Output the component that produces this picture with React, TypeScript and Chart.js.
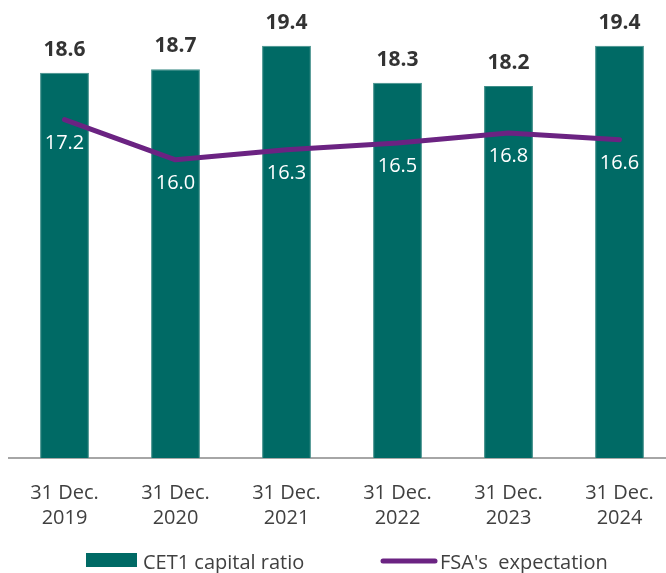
import React, { useEffect, useRef } from "react";
import { Chart, registerables } from "chart.js";

Chart.register(...registerables);

const categories: string[][] = [
  ["31 Dec.", "2019"],
  ["31 Dec.", "2020"],
  ["31 Dec.", "2021"],
  ["31 Dec.", "2022"],
  ["31 Dec.", "2023"],
  ["31 Dec.", "2024"],
];
const cet1Ratio: number[] = [18.6, 18.7, 19.4, 18.3, 18.2, 19.4];
const fsaExpectation: number[] = [17.2, 16.0, 16.3, 16.5, 16.8, 16.6];
const seriesNames: string[] = ["CET1 capital ratio", "FSA's  expectation"];

const BAR_COLOR = "#006a65";
const LINE_COLOR = "#6b2382";
const TEXT_COLOR = "#404040";
const FONT = "'Open Sans', 'DejaVu Sans', sans-serif";

const labelPlugin = {
  id: "valueLabels",
  afterDatasetsDraw(chart: any) {
    const ctx = chart.ctx;
    ctx.save();
    const barMeta = chart.getDatasetMeta(1);
    const lineMeta = chart.getDatasetMeta(0);
    ctx.textAlign = "center";
    ctx.textBaseline = "alphabetic";
    ctx.font = `bold 21px ${FONT}`;
    ctx.fillStyle = "#333333";
    barMeta.data.forEach((el: any, i: number) => {
      ctx.fillText(cet1Ratio[i].toFixed(1), el.x, el.y - 17);
    });
    ctx.font = `20px ${FONT}`;
    ctx.fillStyle = "#ffffff";
    lineMeta.data.forEach((el: any, i: number) => {
      ctx.fillText(fsaExpectation[i].toFixed(1), el.x, el.y + 29);
    });
    ctx.restore();
  },
  afterDraw(chart: any) {
    const ctx = chart.ctx;
    ctx.save();
    // custom legend
    ctx.fillStyle = BAR_COLOR;
    ctx.fillRect(86, 553, 51, 14);
    ctx.strokeStyle = LINE_COLOR;
    ctx.lineWidth = 5;
    ctx.lineCap = "round";
    ctx.beginPath();
    ctx.moveTo(383, 561);
    ctx.lineTo(435, 561);
    ctx.stroke();
    ctx.font = `20px ${FONT}`;
    ctx.fillStyle = TEXT_COLOR;
    ctx.textAlign = "left";
    ctx.textBaseline = "alphabetic";
    ctx.fillText(seriesNames[0], 143, 569);
    ctx.fillText(seriesNames[1], 440, 569);
    ctx.restore();
  },
};

export default function App() {
  const ref = useRef<HTMLCanvasElement | null>(null);
  useEffect(() => {
    if (!ref.current) return;
    const chart = new Chart(ref.current, {
      type: "bar",
      data: {
        labels: categories,
        datasets: [
          {
            type: "line",
            label: seriesNames[1],
            data: fsaExpectation,
            borderColor: LINE_COLOR,
            backgroundColor: LINE_COLOR,
            borderWidth: 5,
            borderCapStyle: "round",
            borderJoinStyle: "round",
            pointRadius: 0,
            tension: 0,
            order: 0,
          } as any,
          {
            type: "bar",
            label: seriesNames[0],
            data: cet1Ratio,
            backgroundColor: BAR_COLOR,
            borderColor: "#3f8e89",
            borderWidth: 1,
            barPercentage: 0.44,
            categoryPercentage: 1,
            order: 1,
          },
        ],
      },
      options: {
        responsive: false,
        animation: false,
        layout: { padding: { left: 9, right: 9, top: 10, bottom: 0 } },
        plugins: {
          legend: { display: false },
          tooltip: { enabled: false },
        },
        scales: {
          x: {
            grid: { display: false, drawTicks: false },
            border: { display: true, color: "#a6a6a6", width: 2 },
            ticks: {
              color: TEXT_COLOR,
              font: { family: FONT, size: 20, lineHeight: 1.25 },
              padding: 23,
              maxRotation: 0,
              autoSkip: false,
            },
            afterFit: (scale: any) => {
              scale.height = 115;
            },
          },
          y: {
            display: false,
            min: 7.1,
            max: 20.47,
          },
        },
      },
      plugins: [labelPlugin],
    });
    return () => chart.destroy();
  }, []);
  return (
    <div
      style={{
        position: "fixed",
        left: 0,
        top: 0,
        width: 666,
        height: 573,
        overflow: "hidden",
        background: "#ffffff",
      }}
    >
      <canvas ref={ref} width={684} height={573} />
    </div>
  );
}
